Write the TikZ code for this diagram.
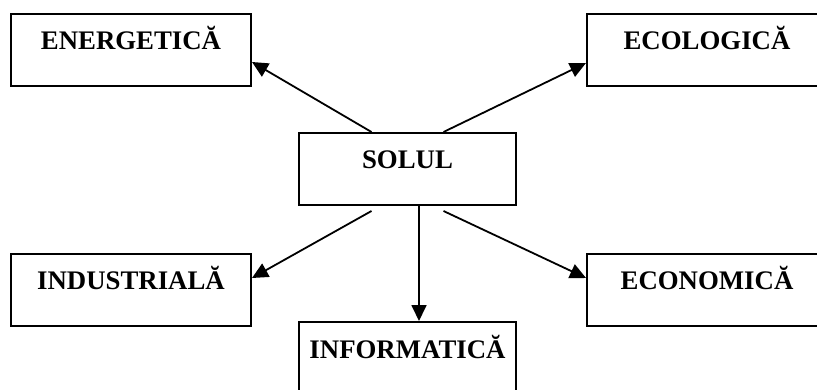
\documentclass[tikz,border=0pt]{standalone}
\usepackage{fontspec}
\setmainfont{Liberation Serif}
\usetikzlibrary{arrows.meta}
\begin{document}
\begin{tikzpicture}[x=1pt,y=-1pt,
	every node/.style={font=\fontsize{26.8}{30}\selectfont\bfseries},
	box/.style={draw,line width=2pt,anchor=north west,inner sep=0,
		text height=36pt,text depth=36pt,minimum width=#1},
	box/.default=240pt,
	link/.style={line width=1.8pt,-{Triangle[length=16pt,width=15pt]}}]
\useasboundingbox (0,0) rectangle (817,390);
\clip (0,0) rectangle (817,390);
\node[box] (energ) at (10,13) {ENERGETICĂ};
\node[box] (ecol) at (586,13) {ECOLOGICĂ};
\node[box=217pt] (solul) at (298,132) {SOLUL};
\node[box] (indus) at (10,253) {INDUSTRIALĂ};
\node[box] (econ) at (586,253) {ECONOMICĂ};
\node[box=217pt] (inform) at (298,321) {INFORMATICĂ};
\draw[link] ([xshift=-36pt]solul.north) -- ([yshift=-12pt]energ.east);
\draw[link] ([xshift=36pt]solul.north) -- ([yshift=-13pt]ecol.west);
\draw[link] ([xshift=-36pt,yshift=-5pt]solul.south) -- ([yshift=12pt]indus.east);
\draw[link] ([xshift=36pt,yshift=-5pt]solul.south) -- ([yshift=12pt]econ.west);
\draw[link] ([xshift=11.5pt]solul.south) -- ([xshift=11.5pt]inform.north);
\end{tikzpicture}
\end{document}
